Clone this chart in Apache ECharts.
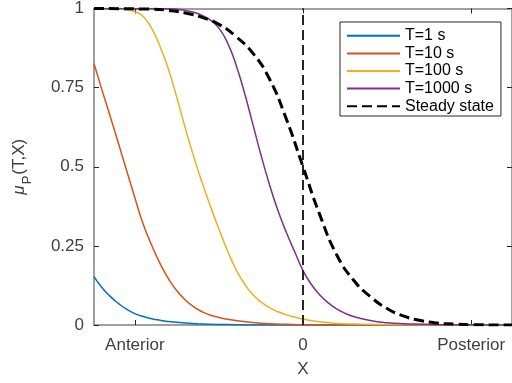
<!DOCTYPE html>
<html>
<head>
<meta charset="utf-8">
<script src="https://cdn.jsdelivr.net/npm/echarts@6/dist/echarts.min.js"></script>
<style>
html,body{margin:0;padding:0;background:#fff;}
#chart{width:512px;height:383px;}
</style>
</head>
<body>
<div id="chart"></div>
<script>
// ---- data (x in units where Anterior=-1, 0=0, Posterior=1) ----
const xRange = [-1.243, 1.243];
const xTickValues = [-1, 0, 1];
const xTickLabels = ['Anterior', '0', 'Posterior'];
const yTickValues = [0, 0.25, 0.5, 0.75, 1];
const seriesNames = ['T=1 s', 'T=10 s', 'T=100 s', 'T=1000 s', 'Steady state'];

const xT1 = [-1.243, -1.2, -1.15, -1.1, -1.05, -1.0, -0.95, -0.9, -0.85, -0.8, -0.7, -0.6, -0.5, -0.3, 0, 1.243];
const yT1 = [0.153, 0.121, 0.092, 0.069, 0.050, 0.036, 0.027, 0.020, 0.015, 0.011, 0.006, 0.003, 0.0015, 0.0003, 0, 0];

const xT10 = [-1.243, -1.2, -1.15, -1.1, -1.05, -1.0, -0.95, -0.9, -0.85, -0.8, -0.75, -0.7, -0.65, -0.6, -0.55, -0.5, -0.45, -0.4, -0.3, -0.2, -0.1, 0, 0.2, 1.243];
const yT10 = [0.826, 0.750, 0.665, 0.578, 0.490, 0.402, 0.318, 0.252, 0.194, 0.146, 0.108, 0.079, 0.057, 0.042, 0.031, 0.024, 0.018, 0.014, 0.008, 0.004, 0.002, 0.001, 0, 0];

const xT100 = [-1.243, -1.1, -1.05, -1.0, -0.95, -0.9, -0.85, -0.8, -0.75, -0.7, -0.65, -0.6, -0.55, -0.5, -0.45, -0.4, -0.35, -0.3, -0.25, -0.2, -0.15, -0.1, -0.05, 0, 0.1, 0.2, 0.3, 0.5, 1.243];
const yT100 = [1.0, 0.999, 0.996, 0.990, 0.975, 0.937, 0.880, 0.808, 0.718, 0.622, 0.532, 0.450, 0.374, 0.303, 0.236, 0.177, 0.131, 0.097, 0.073, 0.055, 0.042, 0.032, 0.025, 0.019, 0.010, 0.005, 0.003, 0.001, 0];

const xT1000 = [-1.243, -0.8, -0.7, -0.65, -0.6, -0.55, -0.5, -0.45, -0.4, -0.35, -0.3, -0.25, -0.2, -0.15, -0.1, -0.05, 0, 0.05, 0.1, 0.15, 0.2, 0.25, 0.3, 0.4, 0.5, 0.6, 0.8, 1.243];
const yT1000 = [1.0, 0.999, 0.994, 0.988, 0.978, 0.963, 0.938, 0.893, 0.825, 0.737, 0.638, 0.537, 0.445, 0.363, 0.294, 0.232, 0.172, 0.128, 0.095, 0.070, 0.051, 0.037, 0.027, 0.014, 0.007, 0.004, 0.001, 0];

const xSteady = [-1.243, -0.9, -0.8, -0.7, -0.6, -0.5, -0.4, -0.3, -0.2, -0.1, 0, 0.1, 0.2, 0.3, 0.4, 0.5, 0.6, 0.7, 0.8, 0.9, 1.0, 1.243];
const ySteady = [1.0, 0.998, 0.994, 0.986, 0.972, 0.950, 0.912, 0.860, 0.778, 0.652, 0.500, 0.348, 0.222, 0.142, 0.090, 0.052, 0.028, 0.014, 0.006, 0.003, 0.001, 0];

const vLineX = 0;

const colors = ['#0072BD', '#D95319', '#EDB120', '#7E2F8E', '#000000'];
const FONT = "'Liberation Sans', Arial, Helvetica, sans-serif";

function pairs(xs, ys) { return xs.map((x, i) => [x, ys[i]]); }

const dataSets = [pairs(xT1, yT1), pairs(xT10, yT10), pairs(xT100, yT100), pairs(xT1000, yT1000), pairs(xSteady, ySteady)];

const series = dataSets.map((d, i) => ({
  name: seriesNames[i],
  type: 'line',
  data: d,
  showSymbol: false,
  symbol: 'none',
  smooth: 0.5,
  clip: true,
  lineStyle: i === 4
    ? { color: '#000', width: 3, type: [10, 5] }
    : { color: colors[i], width: 1.5 },
  itemStyle: { color: colors[i] },
  z: i === 4 ? 5 : 3
}));

series.push({
  name: 'zeroLine',
  type: 'line',
  data: [[vLineX, 0], [vLineX, 1]],
  showSymbol: false,
  symbol: 'none',
  lineStyle: { color: '#262626', width: 2, type: [10, 5] },
  z: 4
});

const axisGray = '#808080';
const labelGray = '#404040';

const option = {
  animation: false,
  backgroundColor: '#fff',
  textStyle: { fontFamily: FONT },
  grid: { left: 88, top: 8, width: 425, height: 318, containLabel: false },
  legend: {
    data: seriesNames,
    orient: 'vertical',
    left: 340,
    top: 22,
    padding: [5, 7, 1, 6],
    itemWidth: 53,
    itemHeight: 22,
    itemGap: 0,
    borderColor: '#262626',
    borderWidth: 1,
    backgroundColor: '#fff',
    textStyle: { fontSize: 16, color: '#000', fontFamily: FONT },
    itemStyle: { opacity: 0 }
  },
  xAxis: [
    {
      type: 'value',
      min: xRange[0],
      max: xRange[1],
      position: 'bottom',
      name: 'X',
      nameLocation: 'middle',
      nameGap: 36,
      nameTextStyle: { fontSize: 17, color: labelGray, fontFamily: FONT },
      axisLine: { show: true, onZero: false, lineStyle: { color: axisGray, width: 1.5 } },
      axisTick: { show: true, inside: true, length: 5, customValues: xTickValues, lineStyle: { color: '#262626' } },
      axisLabel: {
        show: true, margin: 12, fontSize: 17, color: labelGray, fontFamily: FONT,
        customValues: xTickValues,
        formatter: v => { const k = xTickValues.findIndex(t => Math.abs(t - v) < 1e-9); return k >= 0 ? xTickLabels[k] : ''; }
      },
      splitLine: { show: false }
    },
    {
      type: 'value',
      min: xRange[0],
      max: xRange[1],
      position: 'top',
      axisLine: { show: true, onZero: false, lineStyle: { color: axisGray, width: 1.5 } },
      axisTick: { show: true, inside: true, length: 5, customValues: xTickValues, lineStyle: { color: '#262626' } },
      axisLabel: { show: false },
      splitLine: { show: false }
    }
  ],
  yAxis: [
    {
      type: 'value',
      min: 0,
      max: 1,
      interval: 0.25,
      position: 'left',
      name: '{mu|μ}{sub|P}{n|(T,X)}',
      nameLocation: 'middle',
      nameGap: 60,
      nameRotate: 90,
      nameTextStyle: {
        color: labelGray, fontFamily: FONT, fontSize: 17,
        rich: {
          mu: { fontSize: 17, fontStyle: 'italic', color: labelGray, fontFamily: FONT, lineHeight: 26, verticalAlign: 'top', padding: [3, 1, 0, 0] },
          sub: { fontSize: 13, color: labelGray, fontFamily: FONT, lineHeight: 26, verticalAlign: 'bottom', padding: [0, 1, 0, 0] },
          n: { fontSize: 17, color: labelGray, fontFamily: FONT, lineHeight: 26, verticalAlign: 'top', padding: [3, 0, 0, 0] }
        }
      },
      axisLine: { show: true, onZero: false, lineStyle: { color: axisGray, width: 1.5 } },
      axisTick: { show: true, inside: true, length: 5, lineStyle: { color: '#262626' } },
      axisLabel: {
        show: true, margin: 10, fontSize: 17, color: labelGray, fontFamily: FONT,
        formatter: v => String(yTickValues.find(t => Math.abs(t - v) < 1e-9) ?? v)
      },
      splitLine: { show: false }
    },
    {
      type: 'value',
      min: 0,
      max: 1,
      interval: 0.25,
      position: 'right',
      axisLine: { show: true, onZero: false, lineStyle: { color: axisGray, width: 1.5 } },
      axisTick: { show: true, inside: true, length: 5, lineStyle: { color: '#262626' } },
      axisLabel: { show: false },
      splitLine: { show: false }
    }
  ],
  series: series
};

const chart = echarts.init(document.getElementById('chart'), null, { renderer: 'canvas' });
chart.setOption(option);
</script>
</body>
</html>
